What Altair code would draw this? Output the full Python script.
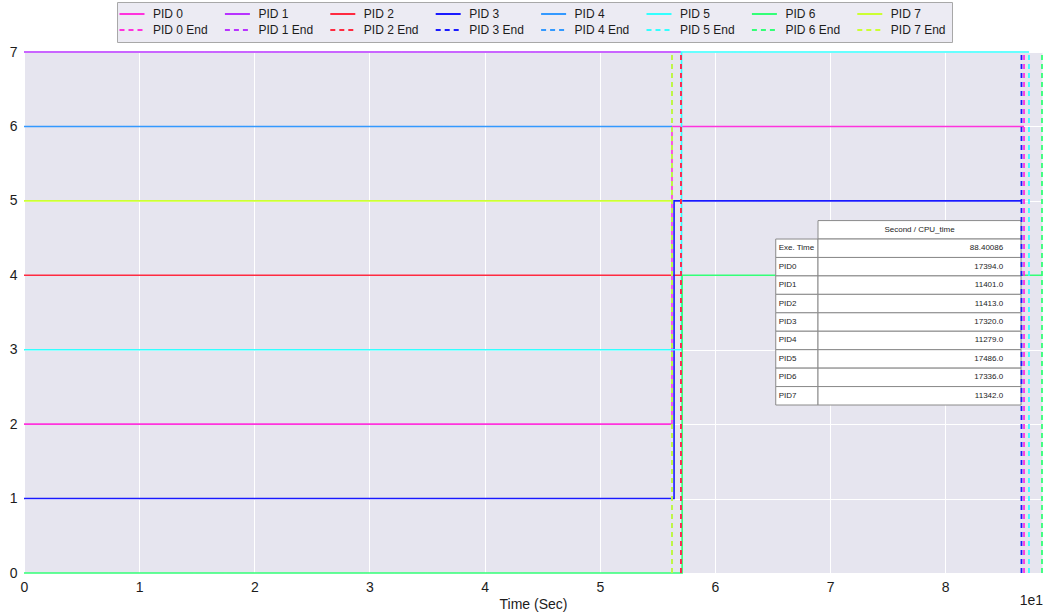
import altair as alt
import pandas as pd

# ---- schedule of each process (times in seconds) ----
pids = [0, 1, 2, 3, 4, 5, 6, 7]
start_slot = [2, 7, 4, 1, 6, 3, 0, 5]
move_time = [56.27, None, None, 56.45, None, 57.10, 57.15, None]
move_slot = [6, None, None, 5, None, 7, 4, None]
end_time = [86.84, 57.05, 57.05, 86.62, 56.27, 87.27, 88.40086, 56.27]
pid_colors = ["#ff33dd", "#b833ff", "#ff2a40", "#1a1aff",
              "#3399ff", "#33ffff", "#33ff77", "#ccff33"]

exe_time = 88.40086

# ---- summary table ----
table_header = "Second / CPU_time"
table_rows = ["Exe. Time", "PID0", "PID1", "PID2", "PID3",
              "PID4", "PID5", "PID6", "PID7"]
table_values = ["88.40086", "17394.0", "11401.0", "11413.0", "17320.0",
                "11279.0", "17486.0", "17336.0", "11342.0"]

FONT = "Liberation Sans"
TEXT = "#1c1c1c"
W, H = 1018, 521

run_names = [f"PID {p}" for p in pids]
end_names = [f"PID {p} End" for p in pids]
# legend fills column by column: each column holds a run and its end marker
series_domain = [n for pair in zip(run_names, end_names) for n in pair]
series_colors = [c for c in pid_colors for _ in range(2)]
series_dashes = [[1, 0], [5, 4]] * len(pids)

# step-line vertices for each process
run_rows = []
for i, p in enumerate(pids):
    pts = [(0.0, start_slot[i])]
    slot = start_slot[i]
    if move_time[i] is not None:
        slot = move_slot[i]
        pts.append((move_time[i], slot))
    pts.append((end_time[i], slot))
    for k, (t, s) in enumerate(pts):
        run_rows.append({"series": run_names[i], "t": t, "slot": s, "k": k})
runs_df = pd.DataFrame(run_rows)

ends_df = pd.DataFrame({"series": end_names, "t": end_time,
                        "lo": [0] * len(pids), "hi": [7] * len(pids)})

# table cell layout in data units
col_x0, col_x1, col_x2 = 65.28, 68.95, 86.58
tab_top, row_h = 4.735, 0.2478
cells = [{"x0": col_x1, "x1": col_x2, "y0": tab_top, "y1": tab_top - row_h}]
labels, values = [], []
for r, (name, val) in enumerate(zip(table_rows, table_values)):
    top = tab_top - row_h * (r + 1)
    bot = top - row_h
    cells.append({"x0": col_x0, "x1": col_x1, "y0": top, "y1": bot})
    cells.append({"x0": col_x1, "x1": col_x2, "y0": top, "y1": bot})
    labels.append({"tx": col_x0 + 0.25, "ty": (top + bot) / 2, "txt": name})
    values.append({"tx": col_x2 - 1.55, "ty": (top + bot) / 2, "txt": val})
cells_df = pd.DataFrame(cells)
labels_df = pd.DataFrame(labels)
values_df = pd.DataFrame(values)
header_df = pd.DataFrame([{"tx": (col_x1 + col_x2) / 2,
                           "ty": tab_top - row_h / 2, "txt": table_header}])

x_scale = alt.Scale(domain=[0, exe_time], nice=False, zero=False)
y_scale = alt.Scale(domain=[0, 7], nice=False)
x_axis = alt.Axis(values=list(range(0, 90, 10)), labelExpr="datum.value / 10",
                  title="Time (Sec)", grid=True, domain=False, ticks=False,
                  labelFlush=False, labelPadding=7, titlePadding=3)
y_axis = alt.Axis(values=list(range(0, 8)), title=None, grid=True,
                  domain=False, ticks=False, labelFlush=False, labelPadding=7)


def X(field):
    return alt.X(field, type="quantitative", scale=x_scale, axis=x_axis)


def Y(field):
    return alt.Y(field, type="quantitative", scale=y_scale, axis=y_axis)


legend = alt.Legend(title=None, orient="none", legendX=93, legendY=-50,
                    columns=8, symbolType="M-2.5,0H2.5", symbolSize=100,
                    symbolOffset=3, symbolStrokeWidth=2, labelOffset=15,
                    labelFontSize=12, labelFont=FONT, labelColor=TEXT,
                    columnPadding=12.4, rowPadding=4, padding=6,
                    fillColor="#ecebf3", strokeColor="#a8a8a8")
color = alt.Color("series:N", scale=alt.Scale(domain=series_domain,
                                              range=series_colors),
                  legend=legend)
dash = alt.StrokeDash("series:N",
                      scale=alt.Scale(domain=series_domain, range=series_dashes),
                      legend=legend)

runs = alt.Chart(runs_df).mark_line(interpolate="step-after", strokeWidth=1.6).encode(
    x=X("t"), y=Y("slot"), color=color, strokeDash=dash, order="k:Q")

ends = alt.Chart(ends_df).mark_rule(strokeWidth=1.8).encode(
    x=X("t"), y=Y("lo"), y2="hi", color=color, strokeDash=dash)

cell_marks = alt.Chart(cells_df).mark_rect(fill="white", stroke="#8a8a8a",
                                           strokeWidth=1).encode(
    x=X("x0"), x2="x1", y=Y("y0"), y2="y1")

label_marks = alt.Chart(labels_df).mark_text(align="left", baseline="middle",
                                             fontSize=8, font=FONT, color=TEXT).encode(
    x=X("tx"), y=Y("ty"), text="txt:N")
value_marks = alt.Chart(values_df).mark_text(align="right", baseline="middle",
                                             fontSize=8, font=FONT, color=TEXT).encode(
    x=X("tx"), y=Y("ty"), text="txt:N")
header_marks = alt.Chart(header_df).mark_text(align="center", baseline="middle",
                                              fontSize=8, font=FONT, color=TEXT).encode(
    x=X("tx"), y=Y("ty"), text="txt:N")

offset_text = alt.Chart(pd.DataFrame({"t": [exe_time], "txt": ["1e1"]})).mark_text(
    align="right", baseline="middle", fontSize=14, font=FONT, color=TEXT, dx=1
).encode(x=X("t"), y=alt.value(H + 28), text="txt:N")

chart = alt.layer(
    runs, cell_marks, label_marks, value_marks, header_marks, ends, offset_text
).properties(
    width=W, height=H,
    autosize=alt.AutoSizeParams(type="none"),
    padding={"left": 24, "top": 52, "right": 6, "bottom": 42},
    background="white",
).configure_view(
    fill="#e6e5ef", stroke="transparent"
).configure_axis(
    gridColor="white", gridWidth=1, labelFont=FONT, labelFontSize=14,
    labelColor=TEXT, titleFont=FONT, titleFontSize=14,
    titleFontWeight="normal", titleColor=TEXT,
)

chart.save("out.html", embed_options={"renderer": "svg", "actions": False})
